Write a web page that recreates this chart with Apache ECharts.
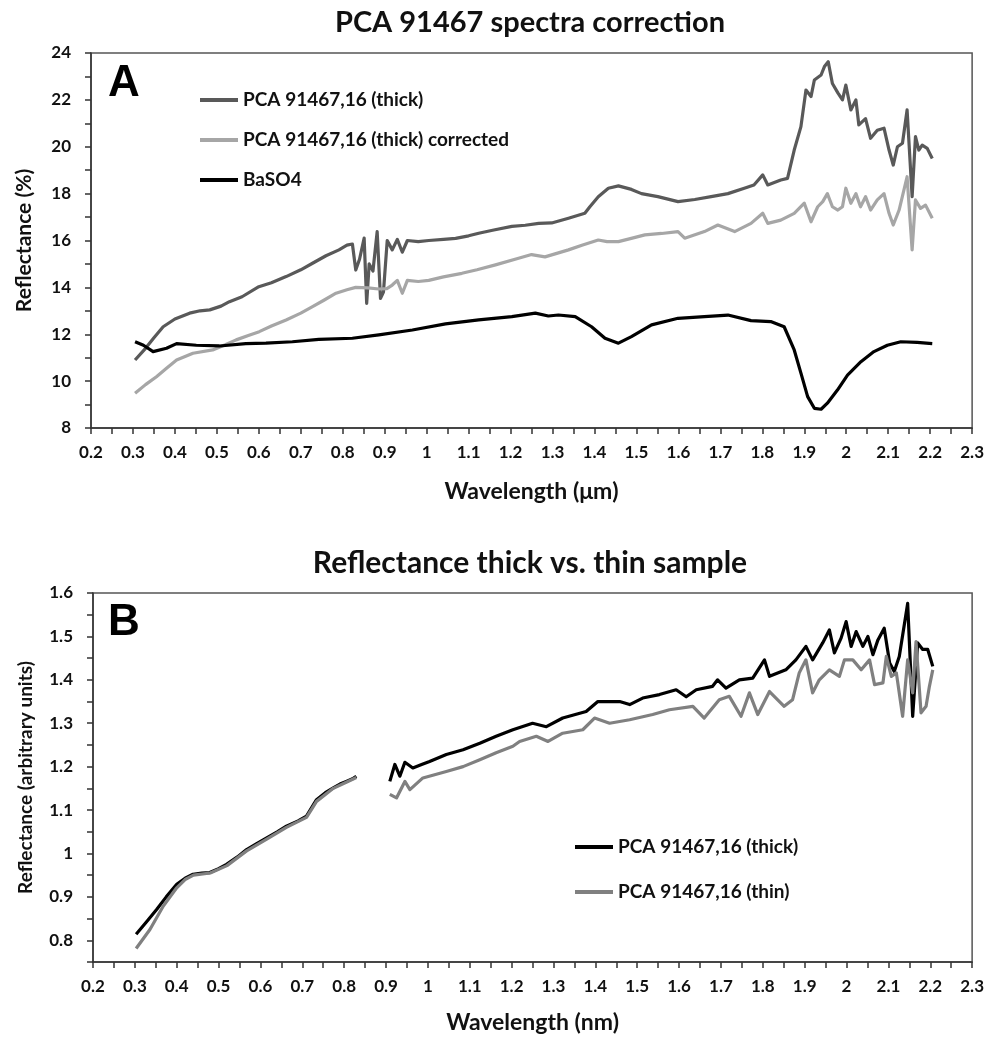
<!DOCTYPE html>
<html>
<head>
<meta charset="utf-8">
<script src="https://cdn.jsdelivr.net/npm/echarts@6/dist/echarts.min.js"></script>
<style>
html,body{margin:0;padding:0;background:#fff;}
#chart{width:987px;height:1039px;}
</style>
</head>
<body>
<div id="chart"></div>
<script>
// ---------- DATA ----------
var titleA = 'PCA 91467 spectra correction';
var titleB = 'Reflectance thick vs. thin sample';
var nameThickA = 'PCA 91467,16 (thick)';
var nameCorrA = 'PCA 91467,16 (thick) corrected';
var nameBaSO4 = 'BaSO4';
var nameThickB = 'PCA 91467,16 (thick)';
var nameThinB = 'PCA 91467,16 (thin)';

// Panel A: [wavelength (µm), reflectance (%)]
var thickA = [[0.305,10.9],[0.33,11.4],[0.35,11.85],[0.372,12.32],[0.40,12.65],[0.435,12.9],[0.46,13.0],[0.483,13.04],[0.51,13.2],[0.53,13.39],[0.56,13.6],[0.60,14.03],[0.63,14.2],[0.665,14.46],[0.70,14.75],[0.728,15.03],[0.76,15.35],[0.791,15.6],[0.81,15.8],[0.823,15.85],[0.831,14.74],[0.84,15.2],[0.851,16.1],[0.857,13.32],[0.863,15.0],[0.872,14.7],[0.882,16.38],[0.89,13.53],[0.897,13.8],[0.906,16.0],[0.918,15.6],[0.93,16.05],[0.942,15.5],[0.954,16.0],[0.98,15.95],[1.005,16.0],[1.04,16.05],[1.069,16.09],[1.10,16.2],[1.124,16.31],[1.16,16.45],[1.203,16.6],[1.235,16.65],[1.267,16.73],[1.298,16.75],[1.338,16.95],[1.377,17.16],[1.389,17.44],[1.409,17.87],[1.433,18.23],[1.457,18.33],[1.488,18.18],[1.512,18.0],[1.551,17.87],[1.599,17.66],[1.639,17.75],[1.678,17.87],[1.718,18.0],[1.757,18.23],[1.78,18.37],[1.801,18.8],[1.813,18.37],[1.844,18.58],[1.86,18.65],[1.876,19.86],[1.892,20.86],[1.904,22.42],[1.916,22.14],[1.924,22.85],[1.94,23.06],[1.948,23.42],[1.957,23.63],[1.967,22.7],[1.98,22.3],[1.991,22.0],[1.999,22.63],[2.011,21.57],[2.023,22.0],[2.03,20.93],[2.046,21.2],[2.058,20.36],[2.074,20.7],[2.09,20.79],[2.102,19.86],[2.112,19.22],[2.122,20.0],[2.134,20.15],[2.145,21.57],[2.157,17.87],[2.165,20.43],[2.173,19.86],[2.181,20.07],[2.193,19.93],[2.205,19.5]];
var corrA = [[0.305,9.48],[0.33,9.85],[0.356,10.19],[0.38,10.55],[0.404,10.9],[0.443,11.19],[0.49,11.33],[0.52,11.55],[0.546,11.76],[0.575,11.95],[0.601,12.11],[0.63,12.35],[0.665,12.61],[0.70,12.9],[0.728,13.18],[0.755,13.45],[0.784,13.75],[0.81,13.9],[0.831,14.0],[0.86,13.98],[0.886,13.93],[0.905,13.95],[0.918,14.1],[0.93,14.3],[0.942,13.75],[0.954,14.3],[0.98,14.25],[1.005,14.3],[1.04,14.45],[1.084,14.6],[1.12,14.75],[1.164,14.96],[1.219,15.24],[1.25,15.4],[1.282,15.3],[1.31,15.45],[1.338,15.6],[1.37,15.8],[1.409,16.02],[1.43,15.95],[1.457,15.95],[1.49,16.1],[1.52,16.24],[1.56,16.3],[1.599,16.38],[1.615,16.1],[1.662,16.38],[1.694,16.66],[1.734,16.38],[1.773,16.73],[1.801,17.16],[1.813,16.73],[1.844,16.87],[1.876,17.16],[1.9,17.59],[1.916,16.8],[1.932,17.44],[1.944,17.66],[1.955,18.0],[1.967,17.44],[1.98,17.3],[1.991,17.44],[1.999,18.23],[2.011,17.59],[2.023,18.0],[2.034,17.44],[2.046,17.87],[2.058,17.3],[2.074,17.73],[2.09,18.0],[2.102,17.16],[2.112,16.66],[2.126,17.3],[2.145,18.72],[2.157,15.6],[2.165,17.73],[2.177,17.37],[2.189,17.51],[2.205,16.95]];
var baso4A = [[0.305,11.68],[0.325,11.53],[0.348,11.26],[0.38,11.4],[0.404,11.6],[0.451,11.53],[0.506,11.5],[0.569,11.6],[0.617,11.62],[0.68,11.68],[0.743,11.78],[0.823,11.83],[0.886,11.97],[0.966,12.18],[1.045,12.44],[1.124,12.61],[1.203,12.75],[1.259,12.9],[1.29,12.78],[1.314,12.82],[1.354,12.75],[1.393,12.32],[1.425,11.83],[1.457,11.62],[1.488,11.9],[1.536,12.4],[1.599,12.68],[1.662,12.75],[1.718,12.82],[1.773,12.58],[1.82,12.54],[1.852,12.32],[1.876,11.33],[1.892,10.34],[1.908,9.34],[1.924,8.84],[1.94,8.8],[1.955,9.06],[1.979,9.62],[2.003,10.26],[2.035,10.83],[2.066,11.26],[2.098,11.53],[2.13,11.68],[2.169,11.65],[2.205,11.6]];

// Panel B: [wavelength, reflectance (arbitrary units)], two detector segments
var thickB1 = [[0.303,0.814],[0.33,0.845],[0.352,0.871],[0.375,0.9],[0.40,0.929],[0.42,0.943],[0.439,0.952],[0.46,0.955],[0.479,0.956],[0.50,0.965],[0.519,0.975],[0.545,0.992],[0.567,1.009],[0.59,1.022],[0.615,1.036],[0.64,1.05],[0.662,1.063],[0.69,1.075],[0.71,1.086],[0.734,1.124],[0.755,1.14],[0.774,1.151],[0.79,1.16],[0.805,1.166],[0.82,1.172],[0.829,1.178]];
var thickB2 = [[0.909,1.166],[0.921,1.205],[0.933,1.178],[0.945,1.21],[0.964,1.197],[0.985,1.205],[1.004,1.212],[1.044,1.228],[1.084,1.239],[1.124,1.254],[1.163,1.27],[1.203,1.285],[1.25,1.3],[1.283,1.292],[1.322,1.312],[1.378,1.327],[1.406,1.35],[1.458,1.35],[1.482,1.343],[1.513,1.358],[1.553,1.366],[1.593,1.377],[1.617,1.361],[1.641,1.377],[1.68,1.385],[1.692,1.4],[1.712,1.381],[1.744,1.4],[1.776,1.404],[1.804,1.446],[1.816,1.408],[1.855,1.423],[1.879,1.446],[1.903,1.477],[1.919,1.446],[1.943,1.485],[1.959,1.515],[1.971,1.462],[1.987,1.496],[1.999,1.534],[2.011,1.477],[2.023,1.511],[2.039,1.477],[2.051,1.5],[2.063,1.458],[2.075,1.492],[2.09,1.519],[2.103,1.439],[2.114,1.419],[2.126,1.454],[2.146,1.576],[2.158,1.316],[2.17,1.485],[2.182,1.47],[2.194,1.47],[2.206,1.431]];
var thinB1 = [[0.303,0.781],[0.336,0.825],[0.368,0.879],[0.40,0.921],[0.42,0.94],[0.44,0.95],[0.48,0.955],[0.52,0.972],[0.567,1.006],[0.615,1.033],[0.662,1.06],[0.71,1.083],[0.734,1.12],[0.774,1.15],[0.805,1.164],[0.829,1.175]];
var thinB2 = [[0.909,1.136],[0.925,1.128],[0.945,1.166],[0.957,1.147],[0.988,1.174],[1.044,1.189],[1.084,1.2],[1.124,1.216],[1.163,1.232],[1.203,1.247],[1.219,1.258],[1.259,1.27],[1.287,1.258],[1.322,1.277],[1.37,1.285],[1.398,1.312],[1.434,1.3],[1.482,1.308],[1.537,1.32],[1.577,1.331],[1.633,1.339],[1.66,1.312],[1.696,1.354],[1.72,1.362],[1.748,1.316],[1.768,1.37],[1.788,1.32],[1.816,1.373],[1.851,1.339],[1.871,1.354],[1.887,1.416],[1.903,1.446],[1.919,1.37],[1.935,1.4],[1.959,1.423],[1.983,1.408],[1.995,1.446],[2.015,1.446],[2.035,1.423],[2.055,1.446],[2.067,1.389],[2.087,1.393],[2.095,1.454],[2.107,1.408],[2.119,1.416],[2.134,1.316],[2.146,1.446],[2.158,1.37],[2.166,1.488],[2.178,1.324],[2.19,1.339],[2.198,1.385],[2.206,1.423]];

// ---------- CHART ----------
var FONT = 'Lato';
var chart = echarts.init(document.getElementById('chart'), null, {renderer: 'canvas'});

function xLabel(v) { var k = Math.round(v * 100); return (k % 10 === 0) ? String(k / 100) : ''; }
function yLabelB(v) { var k = Math.round(v * 100); return (k % 10 === 0) ? String(k / 100) : ''; }
function yLabelA(v) { var k = Math.round(v); return (k % 2 === 0) ? String(k) : ''; }

function merge(a, b) { var o = {}; for (var k in a) o[k] = a[k]; for (var k2 in b) o[k2] = b[k2]; return o; }
var axisCommon = {
  axisLine: {show: true, onZero: false, lineStyle: {color: '#333', width: 1.5}},
  axisTick: {show: true, inside: false, length: 6, lineStyle: {color: '#333', width: 1.5}},
  splitLine: {show: false}
};
var labelStyle = {fontFamily: FONT, fontWeight: 'bold', fontSize: 17, color: '#111'};
function nameStyle(sz) { return {fontFamily: FONT, fontWeight: 'bold', fontSize: sz, color: '#111'}; }

var lineW = 3.2;
function lineSeries(name, data, color, xi, z) {
  return {
    name: name, type: 'line', data: data, xAxisIndex: xi, yAxisIndex: xi,
    showSymbol: false, symbol: 'none', smooth: false, z: z,
    lineStyle: {color: color, width: lineW, join: 'round'}, itemStyle: {color: color},
    emphasis: {disabled: true}, animation: false
  };
}

var option = {
  backgroundColor: '#fff',
  animation: false,
  title: [
    {text: titleA, left: 525, top: 3, textAlign: 'center',
     textStyle: {fontFamily: FONT, fontWeight: 'bold', fontSize: 29, color: '#111'}},
    {text: titleB, left: 525, top: 543, textAlign: 'center',
     textStyle: {fontFamily: FONT, fontWeight: 'bold', fontSize: 30, color: '#111'}}
  ],
  legend: [
    {orient: 'vertical', left: 195, top: 84, itemWidth: 38, itemHeight: 4, itemGap: 18, icon: 'rect',
     textStyle: {fontFamily: FONT, fontWeight: 'bold', fontSize: 19, color: '#111', lineHeight: 22},
     data: [nameThickA, nameCorrA, nameBaSO4], selectedMode: false},
    {orient: 'vertical', left: 570, top: 831, itemWidth: 38, itemHeight: 4, itemGap: 23, icon: 'rect',
     textStyle: {fontFamily: FONT, fontWeight: 'bold', fontSize: 19, color: '#111', lineHeight: 22},
     data: [nameThickB + ' ', nameThinB], selectedMode: false}
  ],
  grid: [
    {left: 91, top: 53, width: 884, height: 375, show: true, borderColor: '#555', borderWidth: 1.5, backgroundColor: 'transparent'},
    {left: 93, top: 593, width: 880, height: 369, show: true, borderColor: '#555', borderWidth: 1.5, backgroundColor: 'transparent'}
  ],
  xAxis: [
    merge(axisCommon, {type: 'value', gridIndex: 0, min: 0.2, max: 2.3, interval: 0.05,
      name: 'Wavelength (\u03bcm)', nameLocation: 'middle', nameGap: 52, nameTextStyle: nameStyle(23),
      axisLabel: merge(labelStyle, {formatter: xLabel, margin: 16, showMinLabel: true, showMaxLabel: true})}),
    merge(axisCommon, {type: 'value', gridIndex: 1, min: 0.2, max: 2.3, interval: 0.05,
      name: 'Wavelength (nm)', nameLocation: 'middle', nameGap: 49, nameTextStyle: nameStyle(23),
      axisLabel: merge(labelStyle, {formatter: xLabel, margin: 16, showMinLabel: true, showMaxLabel: true})})
  ],
  yAxis: [
    merge(axisCommon, {type: 'value', gridIndex: 0, min: 8, max: 24, interval: 1,
      name: 'Reflectance (%)', nameLocation: 'middle', nameGap: 56, nameTextStyle: nameStyle(21),
      axisLabel: merge(labelStyle, {formatter: yLabelA, margin: 20})}),
    merge(axisCommon, {type: 'value', gridIndex: 1, min: 0.75, max: 1.6, interval: 0.05,
      name: 'Reflectance (arbitrary units)', nameLocation: 'middle', nameGap: 58, nameTextStyle: nameStyle(19),
      axisLabel: merge(labelStyle, {formatter: yLabelB, margin: 20})})
  ],
  graphic: [
    {type: 'text', left: 108, top: 62, style: {text: 'A', font: 'bold 44px "Liberation Sans", Arial, sans-serif', fill: '#000'}},
    {type: 'text', left: 108, top: 601, style: {text: 'B', font: 'bold 44px "Liberation Sans", Arial, sans-serif', fill: '#000'}}
  ],
  series: [
    lineSeries(nameThickA, thickA, '#595959', 0, 2),
    lineSeries(nameCorrA, corrA, '#a6a6a6', 0, 3),
    lineSeries(nameBaSO4, baso4A, '#000000', 0, 4),
    lineSeries(nameThickB + ' ', thickB1, '#000000', 1, 2),
    lineSeries(nameThickB + ' ', thickB2, '#000000', 1, 2),
    lineSeries(nameThinB, thinB1, '#808080', 1, 3),
    lineSeries(nameThinB, thinB2, '#808080', 1, 3)
  ]
};
chart.setOption(option);
</script>
</body>
</html>
